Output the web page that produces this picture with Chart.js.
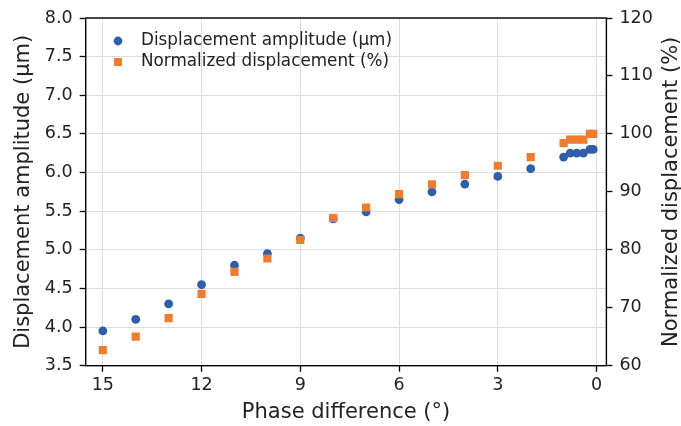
<!DOCTYPE html>
<html>
<head>
<meta charset="utf-8">
<script src="https://cdn.jsdelivr.net/npm/chart.js@4"></script>
<style>
  body { margin: 0; background: #fff; }
  #wrap { width: 681px; height: 426px; }
</style>
</head>
<body>
<div id="wrap"><canvas id="chart" width="681" height="426"></canvas></div>
<script>
// Chart data
const phase = [15, 14, 13, 12, 11, 10, 9, 8, 7, 6, 5, 4, 3, 2, 1, 0.8, 0.6, 0.4, 0.2, 0.1];
const amplitude = [3.95, 4.10, 4.30, 4.55, 4.80, 4.95, 5.15, 5.40, 5.49, 5.65, 5.75, 5.85, 5.95, 6.05, 6.20, 6.25, 6.25, 6.25, 6.30, 6.30];
const normalized = [62.7, 65.0, 68.2, 72.4, 76.2, 78.5, 81.7, 85.5, 87.3, 89.6, 91.3, 92.9, 94.5, 96.0, 98.4, 99.0, 99.0, 99.0, 100, 100];
const phaseTicks = [15, 12, 9, 6, 3, 0];

const ampLabel = "Displacement amplitude (µm)";
const normLabel = "Normalized displacement (%)";

const FONT = "'DejaVu Sans', sans-serif";
const BLUE = "#2f5ea8";
const ORANGE = "#ee7d31";
const GRID = "#dcdcdc";

// Legend, box and right-side title drawn by hand (matplotlib style)
const extras = {
    id: "extras",
    afterDatasetsDraw(chart) {
        const ctx = chart.ctx;
        const a = chart.chartArea;
        ctx.save();
        ctx.strokeStyle = "#000";
        ctx.lineWidth = 1.4;
        ctx.strokeRect(a.left, a.top, a.right - a.left, a.bottom - a.top);

        // legend
        ctx.font = "16.8px " + FONT;
        ctx.fillStyle = "#222";
        ctx.textBaseline = "middle";
        ctx.textAlign = "left";
        ctx.fillText(ampLabel, 141, 41);
        ctx.fillText(normLabel, 141, 62);
        ctx.fillStyle = BLUE;
        ctx.beginPath();
        ctx.arc(118, 41, 4.4, 0, Math.PI * 2);
        ctx.fill();
        ctx.fillStyle = ORANGE;
        ctx.fillRect(114, 58, 8, 8);

        // right axis title, reading bottom to top
        ctx.font = "21px " + FONT;
        ctx.fillStyle = "#222";
        ctx.textAlign = "center";
        ctx.translate(672, (a.top + a.bottom) / 2);
        ctx.rotate(-Math.PI / 2);
        ctx.fillText(normLabel, 0, 0);
        ctx.restore();
    }
};

const ctx = document.getElementById("chart").getContext("2d");
new Chart(ctx, {
    type: "scatter",
    data: {
        datasets: [
            {
                label: normLabel,
                data: phase.map((p, i) => ({ x: p, y: normalized[i] })),
                yAxisID: "y2",
                pointStyle: "rect",
                pointRadius: 5.8,
                pointHoverRadius: 5.8,
                borderWidth: 0,
                backgroundColor: ORANGE,
                borderColor: ORANGE,
                order: 1
            },
            {
                label: ampLabel,
                data: phase.map((p, i) => ({ x: p, y: amplitude[i] })),
                yAxisID: "y",
                pointStyle: "circle",
                pointRadius: 4.4,
                pointHoverRadius: 4.4,
                borderWidth: 0,
                backgroundColor: BLUE,
                borderColor: BLUE,
                order: 2
            }
        ]
    },
    options: {
        responsive: false,
        animation: false,
        devicePixelRatio: 1,
        layout: { padding: { left: 0, right: 0, top: 18, bottom: 0 } },
        plugins: {
            legend: { display: false },
            tooltip: { enabled: false }
        },
        scales: {
            x: {
                type: "linear",
                reverse: true,
                min: -0.3,
                max: 15.52,
                afterBuildTicks: s => { s.ticks = phaseTicks.map(v => ({ value: v })); },
                afterFit: s => { s.height = 60.3; },
                grid: { color: GRID, lineWidth: 1, tickColor: "#000", tickLength: 6, tickWidth: 1.3 },
                border: { display: false },
                ticks: { color: "#222", font: { family: FONT, size: 17.5 }, padding: 3, maxRotation: 0 },
                title: {
                    display: true, text: "Phase difference (°)", color: "#222",
                    font: { family: FONT, size: 21, lineHeight: 1 }, padding: { top: 3, bottom: 3 }
                }
            },
            y: {
                position: "left",
                min: 3.5,
                max: 8,
                afterFit: s => { s.width = 85.7; },
                grid: { color: GRID, lineWidth: 1, tickColor: "#000", tickLength: 6, tickWidth: 1.3 },
                border: { display: false },
                ticks: { stepSize: 0.5, color: "#222", font: { family: FONT, size: 17.5 }, padding: 7,
                         callback: v => v.toFixed(1) },
                title: {
                    display: true, text: ampLabel, color: "#222",
                    font: { family: FONT, size: 21, lineHeight: 1 }, padding: { top: 13.5, bottom: 0 }
                }
            },
            y2: {
                position: "right",
                min: 60,
                max: 120,
                afterFit: s => { s.width = 74.6; },
                grid: { drawOnChartArea: false, tickColor: "#000", tickLength: 6, tickWidth: 1.3 },
                border: { display: false },
                ticks: { stepSize: 10, color: "#222", font: { family: FONT, size: 17.5 }, padding: 7 }
            }
        }
    },
    plugins: [extras]
});
</script>
</body>
</html>
